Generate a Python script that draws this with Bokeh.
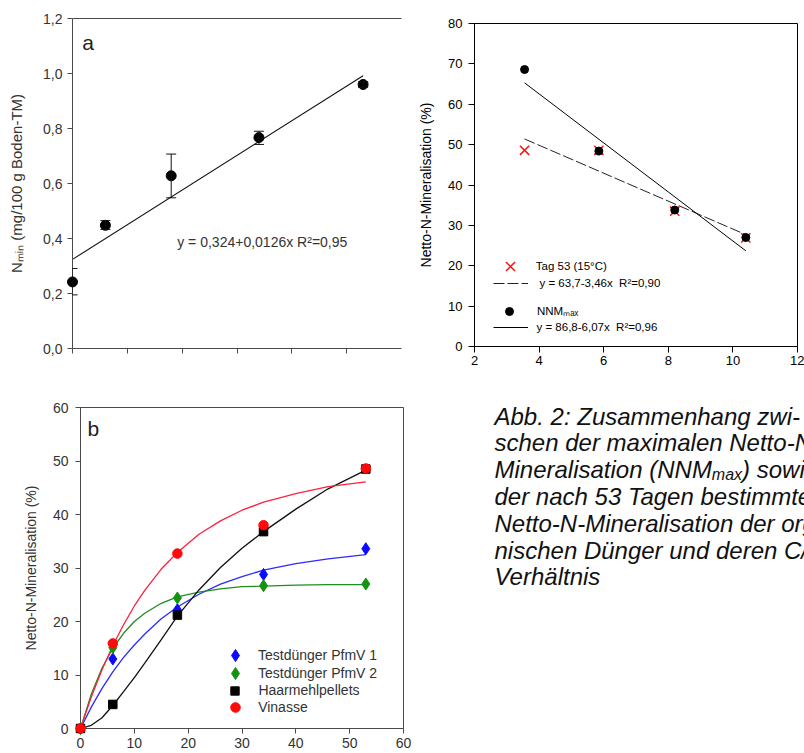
import numpy as np
from bokeh.plotting import figure
from bokeh.models import (Range1d, FixedTicker, LinearAxis, ColumnDataSource, Whisker,
                          TeeHead, Legend, LegendItem, Label)
from bokeh.layouts import row, column
from bokeh.core.properties import value
from bokeh.embed import file_html
from bokeh.resources import INLINE

FONT = "Liberation Sans"

# ---------------- Panel a: Nmin vs. days ----------------
a_days = [0, 6, 18, 34, 53]
a_nmin = [0.242, 0.448, 0.628, 0.767, 0.960]
a_err_low = [0.195, 0.433, 0.548, 0.742, 0.950]
a_err_high = [0.291, 0.465, 0.707, 0.790, 0.970]
a_fit_x = [0, 53]
a_fit_y = [0.324, 0.992]
a_xticks = [0, 10, 20, 30, 40, 50]
a_yticks = [0, 0.2, 0.4, 0.6, 0.8, 1.0, 1.2]
a_ytick_labels = ["0,0", "0,2", "0,4", "0,6", "0,8", "1,0", "1,2"]
a_equation = "y = 0,324+0,0126x   R\u00b2=0,95"
a_ylabel = "N\u2098\u1d62\u2099 (mg/100 g Boden-TM)"

# ---------------- Panel b: Netto-N-Mineralisation vs. days ----------------
b_days = [0, 6, 18, 34, 53]
b_pfmv1 = [0, 13.0, 22.2, 28.8, 33.6]
b_pfmv2 = [0, 15.1, 24.4, 26.7, 27.0]
b_haar = [0, 4.5, 21.2, 36.8, 48.5]
b_vinasse = [0, 15.9, 32.7, 38.0, 48.6]
b_curve_days = [0, 2, 4, 6, 8, 10, 12, 15, 18, 22, 26, 30, 34, 40, 46, 53]
b_curve_pfmv1 = [0, 4.0, 7.5, 10.6, 13.3, 15.6, 17.7, 20.5, 22.7, 25.1, 27.0, 28.4, 29.6, 30.8, 31.7, 32.5]
b_curve_pfmv2 = [0, 6.4, 11.3, 15.0, 17.8, 20.0, 21.6, 23.4, 24.6, 25.5, 26.1, 26.5, 26.6, 26.8, 26.9, 26.9]
b_curve_haar = [0, 0.6, 2.0, 4.3, 6.9, 9.5, 12.3, 16.6, 21.0, 25.9, 30.1, 33.7, 36.8, 41.0, 44.8, 48.3]
b_curve_vinasse = [0, 5.9, 11.0, 15.5, 19.4, 22.9, 25.9, 29.8, 32.9, 36.3, 38.8, 40.8, 42.3, 43.9, 45.2, 46.1]
b_names = ["Testd\u00fcnger PfmV 1", "Testd\u00fcnger PfmV 2", "Haarmehlpellets", "Vinasse"]
b_ticks = [0, 10, 20, 30, 40, 50, 60]
b_ylabel = "Netto-N-Mineralisation (%)"

# ---------------- Panel c: vs. C/N ----------------
c_cn = [3.55, 5.85, 8.2, 10.4]
c_tag53 = [48.6, 48.6, 33.5, 26.9]
c_nnm = [68.6, 48.4, 33.8, 27.0]
c_fit_x = [3.55, 10.4]
c_fit_tag53 = [51.4, 27.7]
c_fit_nnm = [65.3, 23.7]
c_xticks = [2, 4, 6, 8, 10, 12]
c_yticks = [0, 10, 20, 30, 40, 50, 60, 70, 80]
c_labels = ["Tag 53 (15\u00b0C)", "y = 63,7-3,46x  R\u00b2=0,90",
            "NNM\u2098\u2090\u2093", "y = 86,8-6,07x  R\u00b2=0,96"]
c_ylabel = "Netto-N-Mineralisation (%)"

# ---------------- Caption ----------------
caption_lines = [
    "Abb. 2: Zusammenhang zwi-",
    "schen der maximalen Netto-N-",
    None,
    "der nach 53 Tagen bestimmten",
    "Netto-N-Mineralisation der orga-",
    "nischen D\u00fcnger und deren C/N-",
    "Verh\u00e4ltnis",
]
caption_line3 = ["Mineralisation (NNM", "max", ") sowie"]

AXC = "#4a4a4a"
TXC = "#333333"


def make_fig(w, h, xr, yr, bl, br, bt, bb):
    p = figure(width=w, height=h, x_range=Range1d(*xr), y_range=Range1d(*yr),
               output_backend="svg", toolbar_location=None, title=None,
               min_border_left=bl, min_border_right=br,
               min_border_top=bt, min_border_bottom=bb)
    p.xgrid.visible = False
    p.ygrid.visible = False
    p.background_fill_color = "white"
    p.border_fill_color = "white"
    return p


def style_axis(ax, ticks, fsize, tcolor, lcolor, tick_out, label_standoff,
               axis_label=None, alsize="14px", al_standoff=10, overrides=None):
    ax.ticker = FixedTicker(ticks=ticks)
    ax.axis_line_color = lcolor
    ax.axis_line_width = 1
    ax.major_tick_line_color = lcolor
    ax.major_tick_in = 0
    ax.major_tick_out = tick_out
    ax.minor_tick_line_color = None
    ax.major_label_text_font = FONT
    ax.major_label_text_font_size = fsize
    ax.major_label_text_color = tcolor
    ax.major_label_standoff = label_standoff
    if overrides:
        ax.major_label_overrides = overrides
    if axis_label:
        ax.axis_label = axis_label
        ax.axis_label_text_font = FONT
        ax.axis_label_text_font_size = alsize
        ax.axis_label_text_font_style = "normal"
        ax.axis_label_text_color = tcolor
        ax.axis_label_standoff = al_standoff


def key(p, renderer, label, cx, cy, h, w, label_x, fsize, color):
    leg = Legend(items=[LegendItem(label=value(label), renderers=[renderer])],
                 location=(cx - w / 2.0, cy - h / 2.0),
                 glyph_width=int(round(w)), glyph_height=int(round(h)),
                 label_height=int(round(h)),
                 label_standoff=int(round(label_x - (cx + w / 2.0))),
                 padding=0, spacing=0, margin=0, border_line_color=None,
                 background_fill_alpha=0, label_text_font=FONT,
                 label_text_font_size=fsize, label_text_color=color)
    p.add_layout(leg)


# ======== Panel a ========
fa = make_fig(412, 370, (0, 60), (0, 1.2), 72, 11, 18, 22)
fa.outline_line_color = None
style_axis(fa.xaxis[0], a_xticks, "8px", TXC, AXC, 5, 2)
fa.xaxis[0].major_label_text_color = None
style_axis(fa.yaxis[0], a_yticks, "14px", TXC, AXC, 5, 5, axis_label=a_ylabel,
           alsize="15px", al_standoff=15,
           overrides={t: l for t, l in zip(a_yticks, a_ytick_labels)})
top = LinearAxis(ticker=FixedTicker(ticks=[]), axis_line_color=AXC,
                 major_tick_in=0, major_tick_out=0, minor_tick_in=0, minor_tick_out=0,
                 major_label_standoff=0)
fa.add_layout(top, "above")

fa.line(a_fit_x, a_fit_y, line_color="#111111", line_width=1.1)
src_a = ColumnDataSource(dict(x=a_days, y=a_nmin, lower=a_err_low, upper=a_err_high))
wh = Whisker(base="x", upper="upper", lower="lower", source=src_a, line_color="#111111",
             line_width=1, level="overlay",
             upper_head=TeeHead(size=10, line_color="#111111", line_width=1),
             lower_head=TeeHead(size=10, line_color="#111111", line_width=1))
fa.add_layout(wh)
fa.scatter("x", "y", source=src_a, marker="circle", size=10, fill_color="black",
           line_color="black", level="overlay")
fa.add_layout(Label(x=1.8, y=1.0727, text="a", text_font=FONT, text_font_size="21px",
                    text_color="#222222", text_baseline="bottom"))
fa.add_layout(Label(x=19.1, y=0.3865, text=a_equation, text_font=FONT,
                    text_font_size="14px", text_color=TXC, text_baseline="middle"))

# ======== Panel b ========
fb = make_fig(412, 383, (0, 60), (0, 60), 80, 9, 37, 25)
fb.outline_line_color = AXC
style_axis(fb.xaxis[0], b_ticks, "14px", TXC, AXC, 5, 4)
style_axis(fb.yaxis[0], b_ticks, "14px", TXC, AXC, 5, 7, axis_label=b_ylabel,
           alsize="14px", al_standoff=11)

curve_cols = ["#2a2aff", "#1e8c1e", "#111111", "#ff2040"]
mark_cols = ["#0a0aff", "#129412", "#000000", "#ff0a0a"]
for ys, c in zip([b_curve_pfmv1, b_curve_pfmv2, b_curve_haar, b_curve_vinasse], curve_cols):
    fb.line(b_curve_days, ys, line_color=c, line_width=1.3)

r_b1 = fb.scatter(b_days, b_pfmv1, marker="diamond", size=12, fill_color=mark_cols[0],
                  line_color=mark_cols[0], level="overlay")
r_b2 = fb.scatter(b_days, b_pfmv2, marker="diamond", size=12, fill_color=mark_cols[1],
                  line_color=mark_cols[1], level="overlay")
r_b3 = fb.scatter(b_days, b_haar, marker="square", size=8.5, fill_color=mark_cols[2],
                  line_color=mark_cols[2], level="overlay")
r_b4 = fb.scatter(b_days, b_vinasse, marker="circle", size=9.5, fill_color=mark_cols[3],
                  line_color=mark_cols[3], level="overlay")

for r, name, cy, sz in zip([r_b1, r_b2, r_b3, r_b4], b_names,
                           [72.7, 55.0, 37.7, 20.4], [12, 12, 8.5, 9.5]):
    hh = sz / 0.4
    key(fb, r, name, 155, cy, hh, hh, 178.3, "14px", TXC)

fb.add_layout(Label(x=1.3, y=53.85, text="b", text_font=FONT, text_font_size="21px",
                    text_color="#222222", text_baseline="bottom"))

# ======== Panel c ========
fc = make_fig(392, 372, (2, 12), (0, 80), 62, 7, 23, 26)
fc.outline_line_color = "black"
style_axis(fc.xaxis[0], c_xticks, "13px", "black", "black", 6, 3)
style_axis(fc.yaxis[0], c_yticks, "13px", "black", "black", 6, 6, axis_label=c_ylabel,
           alsize="14px", al_standoff=11)

r_dash = fc.line(c_fit_x, c_fit_tag53, line_color="#222222", line_width=1,
                 line_dash="11 3")
r_solid = fc.line(c_fit_x, c_fit_nnm, line_color="black", line_width=1)
r_x = fc.scatter(c_cn, c_tag53, marker="x", size=13, line_color="#ff1010", line_width=1.5)
r_dot = fc.scatter(c_cn, c_nnm, marker="circle", size=8, fill_color="black",
                   line_color="black")

key(fc, r_x, c_labels[0], 36, 80, 32.5, 32.5, 62.7, "11.5px", "black")
key(fc, r_dash, c_labels[1], 36, 63, 16, 35, 65, "11.5px", "black")
key(fc, r_dot, c_labels[2], 35, 35.3, 20, 20, 62.7, "11.5px", "black")
key(fc, r_solid, c_labels[3], 36, 18.7, 16, 35, 62.7, "11.5px", "black")

# ======== Caption ========
fcap = figure(width=392, height=381, x_range=Range1d(412, 804), y_range=Range1d(753, 372),
              x_axis_type=None, y_axis_type=None, min_border=0, toolbar_location=None,
              output_backend="svg", title=None)
fcap.outline_line_color = None
fcap.xgrid.visible = False
fcap.ygrid.visible = False
base_y = [415.5, 442.3, 469.1, 495.9, 522.7, 549.5, 576.3]
cap_x, cap_y, cap_t = [], [], []
for ln, by in zip(caption_lines, base_y):
    if ln is not None:
        cap_x.append(494)
        cap_y.append(by)
        cap_t.append(ln)
CAP_FS = 24
fcap.text(x=cap_x, y=cap_y, text=cap_t, text_font=value(FONT), text_font_style="italic",
          text_font_size=f"{CAP_FS}px", text_color="#111111", text_baseline="alphabetic",
          text_align="left")
# line 3 with subscript
w_main = 9.057 * CAP_FS
w_sub = 1.889 * 16
fcap.text(x=[494, 494 + w_main + w_sub], y=[base_y[2], base_y[2]],
          text=[caption_line3[0], caption_line3[2]], text_font=value(FONT),
          text_font_style="italic", text_font_size=f"{CAP_FS}px", text_color="#111111",
          text_baseline="alphabetic", text_align="left")
fcap.text(x=[494 + w_main], y=[base_y[2] + 4.5], text=[caption_line3[1]],
          text_font=value(FONT), text_font_style="italic", text_font_size="16px",
          text_color="#111111", text_baseline="alphabetic", text_align="left")

layout = row(column(row(fa), row(fb)), column(row(fc), row(fcap)))
open("out.html", "w").write(file_html(layout, INLINE))
